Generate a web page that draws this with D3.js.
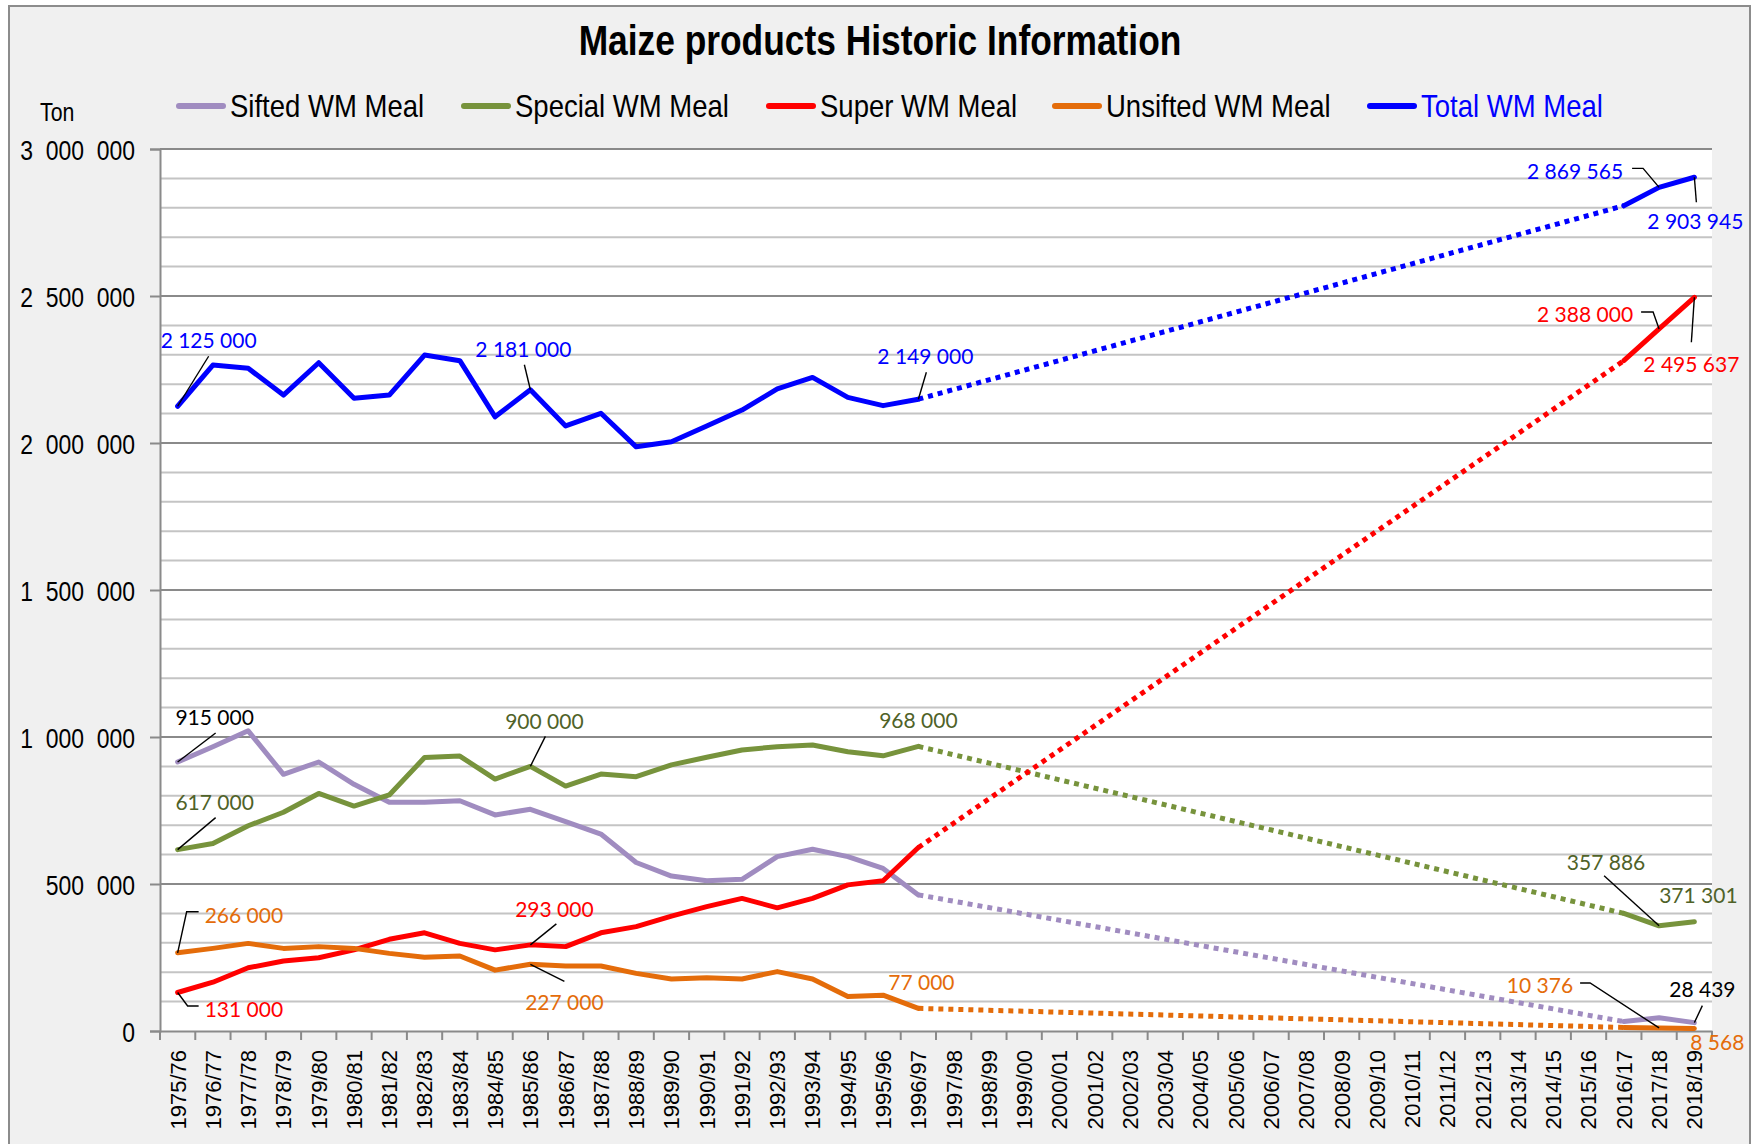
<!DOCTYPE html>
<html><head><meta charset="utf-8">
<script src="https://cdn.jsdelivr.net/npm/d3@7"></script>
<style>
body{margin:0;background:#fff}
svg{display:block}
text{white-space:pre}
</style>
</head><body>
<svg id="c" width="1760" height="1144"></svg>
<script>
const categories = ["1975/76","1976/77","1977/78","1978/79","1979/80","1980/81","1981/82","1982/83","1983/84","1984/85","1985/86","1986/87","1987/88","1988/89","1989/90","1990/91","1991/92","1992/93","1993/94","1994/95","1995/96","1996/97","1997/98","1998/99","1999/00","2000/01","2001/02","2002/03","2003/04","2004/05","2005/06","2006/07","2007/08","2008/09","2009/10","2010/11","2011/12","2012/13","2013/14","2014/15","2015/16","2016/17","2017/18","2018/19"];

const siftedWM = [915000,967000,1021000,873000,915000,839000,778000,778000,783000,735000,754000,712000,670000,573000,527000,511000,516000,593000,618000,593000,553000,463000,null,null,null,null,null,null,null,null,null,null,null,null,null,null,null,null,null,null,null,32000,45000,28439];
const specialWM = [617000,638000,698000,744000,808000,765000,803000,930000,935000,857000,900000,833000,874000,865000,905000,931000,956000,967000,973000,950000,936000,968000,null,null,null,null,null,null,null,null,null,null,null,null,null,null,null,null,null,null,null,400000,357886,371301];
const superWM = [131000,166000,215000,238000,249000,276000,312000,334000,298000,276000,293000,287000,334000,355000,391000,423000,451000,419000,451000,497000,511000,624000,null,null,null,null,null,null,null,null,null,null,null,null,null,null,null,null,null,null,null,2280000,2388000,2495637];
const unsiftedWM = [266000,281000,298000,281000,287000,281000,264000,251000,255000,207000,227000,221000,221000,196000,177000,181000,177000,202000,177000,117000,122000,77000,null,null,null,null,null,null,null,null,null,null,null,null,null,null,null,null,null,null,null,12000,10376,8568];
const totalWM = [2125000,2265000,2254000,2163000,2273000,2152000,2163000,2299000,2280000,2089000,2181000,2058000,2101000,1987000,2004000,2058000,2112000,2184000,2223000,2155000,2127000,2149000,null,null,null,null,null,null,null,null,null,null,null,null,null,null,null,null,null,null,null,2807000,2869565,2903945];

const seriesNames = ["Sifted WM Meal","Special WM Meal","Super WM Meal","Unsifted WM Meal","Total WM Meal"];
const yTicks = [0,500000,1000000,1500000,2000000,2500000,3000000];
const titleText = "Maize products Historic Information";
const unitText = "Ton";

const series = [
  {key:"sifted", name:seriesNames[0], values:siftedWM, color:"#A08CC0", label:"#000000", legendText:"#000000"},
  {key:"special", name:seriesNames[1], values:specialWM, color:"#77933C", label:"#4F6228", legendText:"#000000"},
  {key:"super", name:seriesNames[2], values:superWM, color:"#FF0000", label:"#FF0000", legendText:"#000000"},
  {key:"unsifted", name:seriesNames[3], values:unsiftedWM, color:"#E46C0A", label:"#E46C0A", legendText:"#000000"},
  {key:"total", name:seriesNames[4], values:totalWM, color:"#0000FF", label:"#0000FF", legendText:"#0000FF"}
];
const byKey = Object.fromEntries(series.map(s=>[s.key,s]));

// annotation layout: offsets relative to the data point
const notes = [
  {s:"total", c:"1975/76", dx:31, dy:-58, a:"middle", lead:[[31,-50]]},
  {s:"total", c:"1985/86", dx:-7, dy:-33, a:"middle", lead:[[-6,-25]]},
  {s:"total", c:"1996/97", dx:7, dy:-35, a:"middle", lead:[[8,-27]]},
  {s:"total", c:"2017/18", dx:-36, dy:-8, a:"end", lead:[[-16,-19],[-27,-19]]},
  {s:"total", c:"2018/19", dx:1, dy:52, a:"middle", lead:[[2,25]]},
  {s:"super", c:"2017/18", dx:-26, dy:-7, a:"end", lead:[[-6,-17],[-18,-17]]},
  {s:"super", c:"2018/19", dx:-3, dy:75, a:"middle", lead:[[-3,45]]},
  {s:"sifted", c:"1975/76", dx:37, dy:-37, a:"middle", lead:[[38,-29]]},
  {s:"special", c:"1975/76", dx:37, dy:-40, a:"middle", lead:[[38,-32]]},
  {s:"special", c:"1985/86", dx:14, dy:-37, a:"middle", lead:[[15,-30]]},
  {s:"unsifted", c:"1975/76", dx:27, dy:-30, a:"start", lead:[[9,-41],[21,-41]]},
  {s:"super", c:"1975/76", dx:27, dy:25, a:"start", lead:[[10,13.5],[21,13.5]]},
  {s:"super", c:"1985/86", dx:24, dy:-28, a:"middle", lead:[[26,-21]]},
  {s:"unsifted", c:"1985/86", dx:34, dy:46, a:"middle", lead:[[34,17]]},
  {s:"special", c:"1996/97", dx:0, dy:-18, a:"middle", lead:[]},
  {s:"unsifted", c:"1996/97", dx:3, dy:-18, a:"middle", lead:[]},
  {s:"special", c:"2017/18", dx:-53, dy:-56, a:"middle", lead:[[-55,-50]]},
  {s:"special", c:"2018/19", dx:4, dy:-19, a:"middle", lead:[]},
  {s:"unsifted", c:"2017/18", dx:-86, dy:-35, a:"end", lead:[[-69,-45],[-79,-45]]},
  {s:"sifted", c:"2018/19", dx:8, dy:-26, a:"middle", lead:[[8,-17]]},
  {s:"unsifted", c:"2018/19", dx:23, dy:22, a:"middle", lead:[]}
];

const svg = d3.select("#c");
const plot = {l:160, r:1712, t:149, b:1031};
const NARROW = "'Liberation Sans', Arial, sans-serif";
const LABELFONT = "Lato, Carlito, Calibri, sans-serif";

// chart background
svg.append("rect").attr("x",9).attr("y",6).attr("width",1741).attr("height",1160)
  .attr("fill","#F0F0F0").attr("stroke","#8C8C8C").attr("stroke-width",2);

// plot area
svg.append("rect").attr("x",plot.l).attr("y",plot.t).attr("width",plot.r-plot.l).attr("height",plot.b-plot.t)
  .attr("fill","#FFFFFF");

const x = d3.scaleBand().domain(categories).range([plot.l, plot.r]);
const cx = c => x(c) + x.bandwidth()/2;
const y = d3.scaleLinear().domain([0,3000000]).range([plot.b, plot.t]);

const fmtAxis = v => d3.format(",")(v).replace(/,/g,"  ");
const fmtLabel = v => d3.format(",")(v).replace(/,/g," ");

// gridlines
const grid = d3.range(100000, 3000001, 100000);
svg.append("g").selectAll("line").data(grid).join("line")
  .attr("x1",plot.l).attr("x2",plot.r)
  .attr("y1",d=>y(d)).attr("y2",d=>y(d))
  .attr("stroke",d=> d%500000===0 ? "#8A8A8A" : "#C4C4C4")
  .attr("stroke-width",2);

// y axis
const yAxis = svg.append("g").attr("transform",`translate(${plot.l},0)`)
  .call(d3.axisLeft(y).tickValues(yTicks).tickSize(10).tickFormat(fmtAxis));
yAxis.select(".domain").attr("stroke","#8A8A8A").attr("stroke-width",2);
yAxis.selectAll(".tick line").attr("stroke","#8A8A8A").attr("stroke-width",2);
yAxis.selectAll(".tick text")
  .attr("x",-25/0.82).attr("dy","0.36em")
  .attr("transform","scale(0.82,1)")
  .attr("font-family",NARROW).attr("font-size",28).attr("fill","#000");

// x axis
const xAxis = svg.append("g").attr("transform",`translate(0,${plot.b})`)
  .call(d3.axisBottom(x).tickSize(0));
xAxis.select(".domain").attr("stroke","#8A8A8A").attr("stroke-width",2);
xAxis.selectAll(".tick text")
  .attr("transform","rotate(-90)")
  .attr("x",-19).attr("y",0).attr("dy","0.36em")
  .attr("text-anchor","end")
  .attr("font-family","'Liberation Sans', Arial, sans-serif").attr("font-size",22).attr("fill","#000");
// boundary ticks
xAxis.append("g").selectAll("line").data(d3.range(categories.length+1)).join("line")
  .attr("x1",k=>x.range()[0]+k*x.step()).attr("x2",k=>x.range()[0]+k*x.step())
  .attr("y1",0).attr("y2",9).attr("stroke","#8A8A8A").attr("stroke-width",2);

// lines
const lineGen = d3.line().defined(d=>d.v!=null).x(d=>cx(d.c)).y(d=>y(d.v));
series.forEach(s=>{
  const pts = categories.map((c,i)=>({c, v:s.values[i]}));
  const defined = pts.filter(p=>p.v!=null);
  for (let k=1;k<defined.length;k++){
    const a = defined[k-1], b = defined[k];
    if (categories.indexOf(b.c) - categories.indexOf(a.c) > 1){
      svg.append("path").attr("d", lineGen([a,b]))
        .attr("fill","none").attr("stroke",s.color).attr("stroke-width",5)
        .attr("stroke-dasharray","5 5").attr("stroke-linecap","butt");
    }
  }
  svg.append("path").attr("d", lineGen(pts))
    .attr("fill","none").attr("stroke",s.color).attr("stroke-width",5)
    .attr("stroke-linejoin","round").attr("stroke-linecap","round");
});

// annotations
const ann = svg.append("g");
notes.forEach(n=>{
  const s = byKey[n.s];
  const i = categories.indexOf(n.c);
  const v = s.values[i];
  const px = cx(n.c), py = y(v);
  if (n.lead.length){
    const path = d3.path();
    path.moveTo(px,py);
    n.lead.forEach(([dx,dy])=>path.lineTo(px+dx,py+dy));
    ann.append("path").attr("d",path.toString()).attr("fill","none")
      .attr("stroke","#000").attr("stroke-width",1.4);
  }
  ann.append("text").attr("x",px+n.dx).attr("y",py+n.dy)
    .attr("text-anchor",n.a).attr("font-family",LABELFONT).attr("font-size",21)
    .attr("fill",s.label).text(fmtLabel(v));
});

// title
svg.append("text").attr("transform","translate(880,55) scale(0.822,1)")
  .attr("text-anchor","middle").attr("font-family",NARROW).attr("font-weight","bold")
  .attr("font-size",43).attr("fill","#000").text(titleText);

// unit
svg.append("text").attr("transform","translate(40,121) scale(0.82,1)")
  .attr("font-family",NARROW).attr("font-size",26).attr("fill","#000").text(unitText);

// legend
const legendX = [177, 462, 767, 1053, 1368];
const lg = svg.append("g");
series.forEach((s,k)=>{
  const g = lg.append("g").attr("transform",`translate(${legendX[k]},106)`);
  g.append("line").attr("x1",2).attr("x2",46).attr("y1",0).attr("y2",0)
    .attr("stroke",s.color).attr("stroke-width",6).attr("stroke-linecap","round");
  g.append("text").attr("transform","translate(53,11) scale(0.86,1)")
    .attr("font-family",NARROW).attr("font-size",32).attr("fill",s.legendText).text(s.name);
});
</script>
</body></html>
